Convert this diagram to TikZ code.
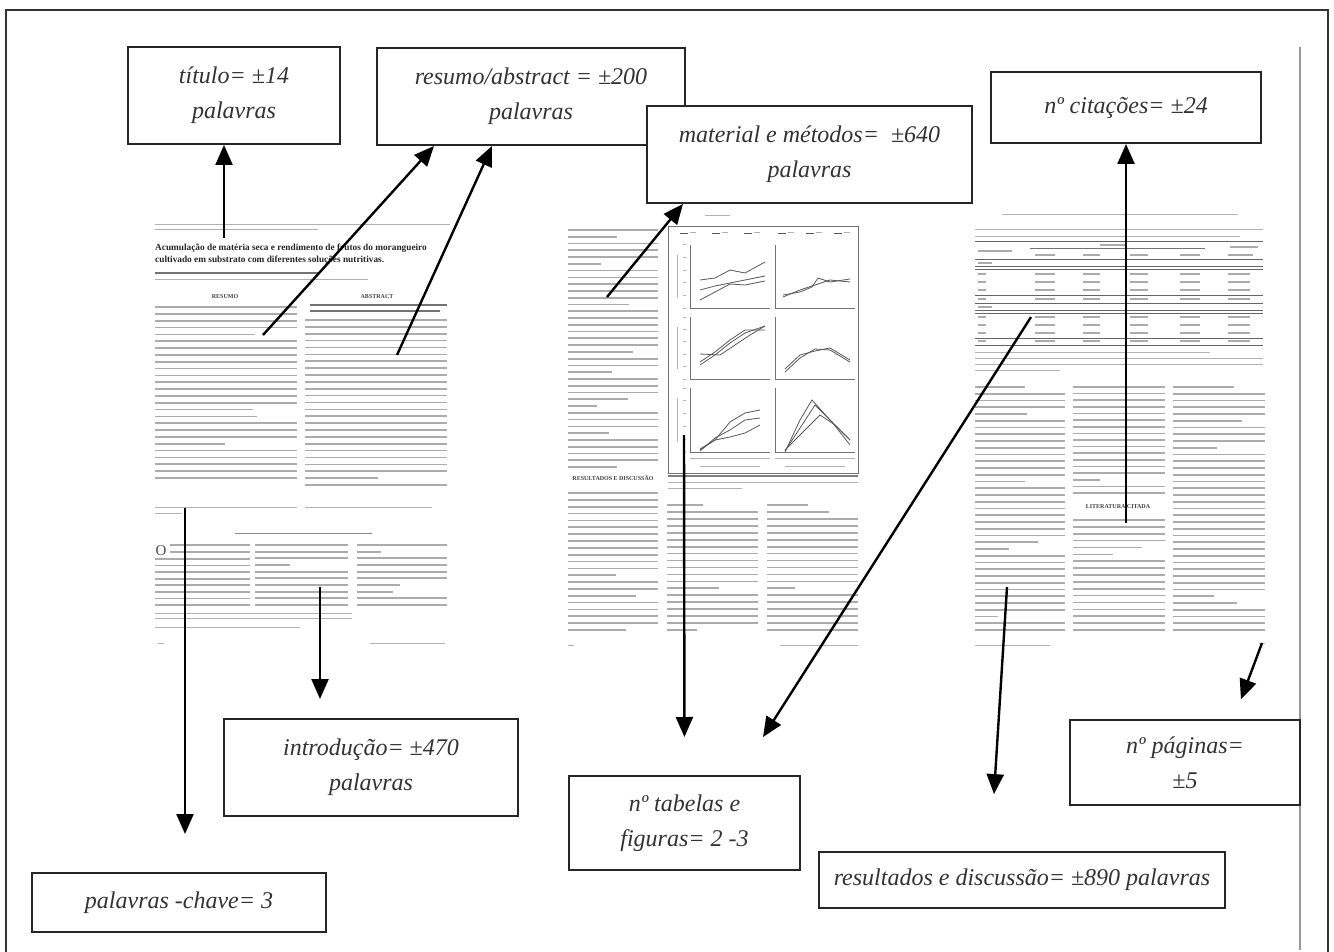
\documentclass[tikz,border=0pt]{standalone}
\usepackage{fontspec}
\setmainfont{Liberation Serif}
\usetikzlibrary{arrows.meta,calc}

\tikzset{
  box/.style={draw=black!85, line width=2pt, fill=white, align=center, inner sep=0pt,
              font=\fontsize{24}{35}\selectfont\itshape, text=black!80},
  arr/.style={line width=2.4pt, draw=black, -{Triangle[length=20pt,width=17pt]}},
  txt/.style={line width=1.7pt, draw=black!33},
  ttxt/.style={line width=1pt, draw=black!30},
  axisl/.style={line width=0.8pt, draw=black!55},
  crv/.style={line width=0.8pt, draw=black!65},
  head/.style={inner sep=0pt, font=\fontsize{6}{7}\selectfont\bfseries, text=black!75},
}

\newcommand{\txtcol}[5]{%
  \foreach \ii in {0,...,#5}{%
    \pgfmathsetmacro{\yy}{#3+\ii*(#4-#3)/#5}%
    \pgfmathsetmacro{\rr}{rnd}%
    \pgfmathsetmacro{\xe}{\rr<0.13 ? #1+(#2-#1)*(0.25+4*\rr) : #2}%
    \draw[txt] (#1,\yy) -- (\xe,\yy);
  }%
}

\begin{document}
\begin{tikzpicture}[x=1pt,y=-1pt]
\pgfmathsetseed{7}
\useasboundingbox (0,0) rectangle (1334,952);
\fill[white] (0,0) rectangle (1334,952);

% outer frame and page edge
\draw[line width=1.5pt, black!80] (6,952) -- (6,10) -- (1328,10) -- (1328,952);
\draw[line width=1.2pt, black!40] (1300,47) -- (1300,950);

% ================= page 1 =================
\draw[ttxt] (155,225) -- (450,225);
\draw[ttxt] (155,230) -- (318,230);
\node[anchor=west, inner sep=0pt, font=\fontsize{9.3}{11}\selectfont\bfseries, text=black!85] (p1t1) at (155,248)
  {Acumulação de matéria seca e rendimento de frutos do morangueiro};
\node[anchor=west, inner sep=0pt, font=\fontsize{9.3}{11}\selectfont\bfseries, text=black!85] (p1t2) at (155,260)
  {cultivado em substrato com diferentes soluções nutritivas.};
\draw[txt, line width=1.3pt, black!55] (155,273) -- (318,273);
\draw[ttxt] (155,280) -- (368,280);
\node[head] (p1res) at (225,297) {RESUMO};
\node[head] (p1abs) at (377,297) {ABSTRACT};
\draw[txt, black!55] (310,305) -- (447,305);
\draw[txt, black!55] (310,311) -- (440,311);
\txtcol{155}{297}{307}{478}{25}
\txtcol{305}{447}{320}{485}{24}
\draw[ttxt] (155,507) -- (297,507);
\draw[ttxt] (155,513) -- (182,513);
\draw[ttxt] (305,507) -- (432,507);
\draw[ttxt, black!45] (235,533) -- (372,533);
\node[inner sep=0pt, font=\fontsize{15}{15}\selectfont, text=black!70] (bigO) at (161,551) {O};
\txtcol{170}{250}{545}{552}{1}
\txtcol{155}{250}{559}{605}{7}
\txtcol{255}{348}{545}{605}{9}
\txtcol{357}{447}{545}{605}{9}
\draw[ttxt] (155,613) -- (352,613);
\draw[ttxt] (155,618) -- (352,618);
\draw[ttxt] (155,627) -- (300,627);
\draw[ttxt] (158,643) -- (164,643);
\draw[ttxt] (370,643) -- (445,643);

% ================= page 2 =================
\draw[ttxt] (705,216) -- (730,216);
\txtcol{568}{658}{230}{467}{35}
\node[head] (p2res) at (613,478) {RESULTADOS E DISCUSSÃO};
\txtcol{568}{658}{493}{630}{20}
\txtcol{667}{758}{505}{630}{18}
\txtcol{767}{858}{505}{630}{18}
\draw[txt, black!50] (668,476) -- (858,476);
\draw[ttxt] (668,482) -- (858,482);
\draw[ttxt] (668,488) -- (742,488);
\draw[ttxt] (568,645) -- (574,645);
\draw[ttxt] (780,645) -- (858,645);
% figure
\draw[line width=1pt, black!55] (668,227) rectangle (858,473);
\foreach \lx in {680,712,744,778,806,834}{
  \draw[crv] (\lx,233) -- (\lx+8,233);
  \draw[ttxt] (\lx+10,233) -- (\lx+16,233);
}
\foreach \px in {690,775}{
  \foreach \py/\pb in {245/308, 317/379, 388/452}{
    \draw[axisl] (\px,\py) -- (\px,\pb) -- (\px+80,\pb);
  }
}
\foreach \py/\pb in {245/308, 317/379, 388/452}{
  \draw[ttxt] (677,\py+10) -- (677,\pb-10);
  \foreach \tk in {0,1,2,3,4,5}{
    \draw[ttxt] (683,{\py+\tk*(\pb-\py)/5}) -- (686,{\py+\tk*(\pb-\py)/5});
  }
}
\draw[ttxt] (690,458) -- (770,458);
\draw[ttxt] (775,458) -- (855,458);
\draw[ttxt] (700,466) -- (760,466);
\draw[ttxt] (785,466) -- (845,466);
% curves
\draw[crv] (700,280) -- (715,278) -- (730,270) -- (745,273) -- (765,262);
\draw[crv] (700,290) -- (715,286) -- (730,283) -- (745,280) -- (765,276);
\draw[crv] (700,300) -- (715,292) -- (730,284) -- (745,285) -- (765,281);
\draw[crv] (783,295) -- (800,292) -- (812,287) -- (818,278) -- (830,282) -- (850,279);
\draw[crv] (783,297) -- (800,290) -- (815,285) -- (830,280) -- (850,282);
\draw[crv] (700,365) -- (715,355) -- (730,343) -- (745,333) -- (765,326);
\draw[crv] (700,362) -- (715,352) -- (730,340) -- (745,330) -- (765,330);
\draw[crv] (700,354) -- (720,355) -- (735,345) -- (750,335) -- (765,326);
\draw[crv] (785,372) -- (800,358) -- (815,349) -- (830,350) -- (850,362);
\draw[crv] (785,369) -- (800,355) -- (815,351) -- (830,348) -- (850,360);
\draw[crv] (700,450) -- (715,440) -- (730,422) -- (745,413) -- (760,410);
\draw[crv] (700,451) -- (715,438) -- (730,430) -- (745,420) -- (760,418);
\draw[crv] (700,449) -- (715,440) -- (730,437) -- (745,433) -- (760,425);
\draw[crv] (785,452) -- (800,420) -- (812,400) -- (830,420) -- (850,440);
\draw[crv] (785,451) -- (802,425) -- (815,405) -- (832,422) -- (850,445);
\draw[crv] (785,450) -- (805,430) -- (820,415) -- (835,425) -- (848,438);

% ================= page 3 =================
\draw[ttxt] (1002,215) -- (1238,215);
\draw[ttxt] (975,230) -- (1263,230);
\draw[ttxt] (975,237) -- (1240,237);
\draw[line width=1pt, black!60] (975,242) -- (1263,242);
\draw[line width=0.6pt, black!55] (1030,248) -- (1205,248);
\draw[line width=0.8pt, black!60] (975,259) -- (1263,259);
\draw[line width=0.8pt, black!60] (975,266) -- (1263,266);
\draw[line width=0.8pt, black!60] (975,269) -- (1263,269);
\draw[line width=0.8pt, black!60] (975,295) -- (1263,295);
\draw[line width=0.8pt, black!60] (975,303) -- (1263,303);
\draw[line width=0.8pt, black!60] (975,310) -- (1263,310);
\draw[line width=0.8pt, black!60] (975,313) -- (1263,313);
\draw[line width=0.8pt, black!60] (975,338) -- (1263,338);
\draw[line width=1pt, black!60] (975,345) -- (1263,345);
\draw[txt] (978,251) -- (1012,251);
\draw[txt] (1100,245) -- (1125,245);
\draw[txt] (1230,247) -- (1258,247);
\foreach \cx/\cw in {1035/20,1083/17,1130/18,1180/20,1228/25}{
  \draw[txt] (\cx,255) -- (\cx+\cw,255);
}
\draw[txt] (978,263) -- (992,263);
\draw[txt] (978,307) -- (992,307);
\foreach \ry in {274,282,290,299,317,325,333,341}{
  \foreach \cx/\cw in {978/8,1035/20,1083/17,1130/18,1180/20,1228/22}{
    \draw[txt] (\cx,\ry) -- (\cx+\cw,\ry);
  }
}
\draw[ttxt] (975,352) -- (1210,352);
\draw[ttxt] (975,358) -- (1263,358);
\draw[ttxt] (975,364) -- (1263,364);
\draw[ttxt] (975,370) -- (1060,370);
\txtcol{975}{1065}{387}{630}{36}
\txtcol{1073}{1165}{387}{493}{16}
\node[head] (p3lit) at (1118,507) {LITERATURA CITADA};
\txtcol{1073}{1165}{520}{630}{16}
\txtcol{1173}{1265}{387}{630}{36}
\draw[ttxt] (975,645) -- (1050,645);
\draw[ttxt] (1259,643) -- (1265,643);

% ================= labelled boxes =================
\node[box, minimum width=212pt, minimum height=97pt] (titulo) at (234,95.5)
  {título= ±14\\palavras};
\node[box, minimum width=308pt, minimum height=97pt] (resumo) at (531,96.5)
  {resumo/abstract = ±200\\palavras};
\node[box, minimum width=325pt, minimum height=97pt] (material) at (809.5,154.5)
  {material e métodos=\ \ ±640\\palavras};
\node[box, minimum width=270pt, minimum height=71pt] (citacoes) at (1126,107.5)
  {nº citações= ±24};
\node[box, minimum width=294pt, minimum height=97pt] (intro) at (371,767.5)
  {introdução= ±470\\palavras};
\node[box, minimum width=294pt, minimum height=59pt] (chave) at (179,902.5)
  {palavras -chave= 3};
\node[box, minimum width=231pt, minimum height=94pt] (tabelas) at (684.5,823)
  {nº tabelas e\\figuras= 2 -3};
\node[box, minimum width=406pt, minimum height=56pt] (resultados) at (1022,880)
  {resultados e discussão= ±890 palavras};
\node[box, minimum width=230pt, minimum height=85pt] (paginas) at (1185,762.5)
  {nº páginas=\\±5};

% ================= connectors =================
\coordinate (t1) at (224,238);
\coordinate (r1) at (263,335);
\coordinate (r2) at (397,355);
\coordinate (m1) at (607,297);
\coordinate (c1) at (1126,523);
\coordinate (i1) at (320,587);
\coordinate (k1) at (185,508);
\coordinate (f1) at (684,435);
\coordinate (f2) at (1031,317);
\coordinate (d1) at (1007,587);
\coordinate (g1) at (1262,643);

\draw[arr] (t1) -- ([xshift=-10pt]titulo.south);
\draw[arr] (r1) -- ([xshift=-97pt]resumo.south);
\draw[arr] (r2) -- ([xshift=-39pt]resumo.south);
\draw[arr] (m1) -- ([xshift=-126.5pt]material.south);
\draw[arr] (c1) -- (citacoes.south);
\draw[arr, shorten >=19pt] (i1) -- ([xshift=-51pt]intro.north);
\draw[arr, shorten >=38pt] (k1) -- ([xshift=6pt]chave.north);
\draw[arr, shorten >=38pt] (f1) -- (tabelas.north);
\draw[arr, shorten >=45pt] (f2) -- ([xshift=54.3pt]tabelas.north);
\draw[arr, shorten >=57pt] (d1) -- ([xshift=-31.6pt]resultados.north);
\draw[arr, shorten >=21pt] (g1) -- ([xshift=48.6pt]paginas.north);
\end{tikzpicture}
\end{document}
